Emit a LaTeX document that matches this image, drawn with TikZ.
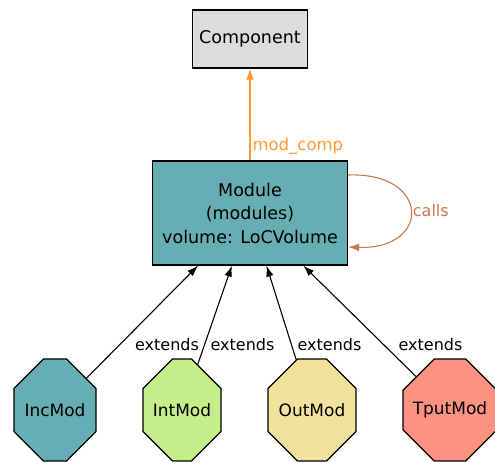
\documentclass[tikz,border=0pt]{standalone}
\usepackage{fontspec}
\setmainfont{DejaVu Sans}
\usetikzlibrary{shapes.misc,arrows.meta}
\definecolor{compgray}{HTML}{DCDCDC}
\definecolor{modteal}{HTML}{67AEB4}
\definecolor{intgreen}{HTML}{C5EE8A}
\definecolor{outyellow}{HTML}{F2E29C}
\definecolor{tputred}{HTML}{FD9283}
\definecolor{compline}{HTML}{FF9A33}
\definecolor{callsline}{HTML}{C77A4E}
\tikzset{
  box/.style={draw, line width=1.2pt, inner sep=0pt, align=center,
    font=\fontsize{17.5}{23.5}\selectfont},
  octnode/.style={draw, line width=1.2pt, chamfered rectangle,
    chamfered rectangle xsep=28pt, chamfered rectangle ysep=23pt,
    minimum height=102pt, inner sep=0pt, font=\fontsize{17}{20}\selectfont},
  extedge/.style={line width=1.1pt, -{Latex[length=11pt,width=7.5pt]}},
  extlabel/.style={font=\fontsize{16}{18}\selectfont, inner sep=0pt}
}
\begin{document}
\begin{tikzpicture}[x=1pt, y=1pt]
    \useasboundingbox (0,0) rectangle (495,462);
    \node[box, fill=compgray, minimum width=115pt, minimum height=58pt] (comp) at (250,423) {Component};
    \node[box, fill=modteal, minimum width=195pt, minimum height=104pt] (mod) at (250,249) {Module\\(modules)\\volume: LoCVolume};
    \node[octnode, fill=modteal, minimum width=82pt] (inc) at (55,52) {IncMod};
    \node[octnode, fill=intgreen, minimum width=78pt] (int) at (182,52) {IntMod};
    \node[octnode, fill=outyellow, minimum width=88pt] (out) at (312,52) {OutMod};
    \node[octnode, fill=tputred, minimum width=94pt] (tput) at (450,52) {TputMod};
    % module to component
    \draw[compline, line width=1.1pt, -{Latex[length=11pt,width=7.5pt]}] (mod) -- (comp)
        node[pos=0.15, anchor=west, font=\fontsize{16.5}{18}\selectfont, inner sep=2pt] {mod\_comp};
    % self call
    \draw[callsline, line width=1.1pt, -{Latex[length=11pt,width=7.5pt]}] ([yshift=38pt]mod.east)
        .. controls +(83,3) and +(83,-3) .. ([yshift=-34pt]mod.east)
        node[pos=0.5, anchor=west, font=\fontsize{16}{18}\selectfont, inner sep=2pt] {calls};
    % extends
    \foreach \src in {inc, int, out, tput}
      \draw[extedge] (\src) -- (mod);
    \node[extlabel] (l1) at (167,117) {extends};
    \node[extlabel] (l2) at (242.5,117) {extends};
    \node[extlabel] (l3) at (329.5,117) {extends};
    \node[extlabel] (l4) at (430.5,117) {extends};
\end{tikzpicture}
\end{document}
